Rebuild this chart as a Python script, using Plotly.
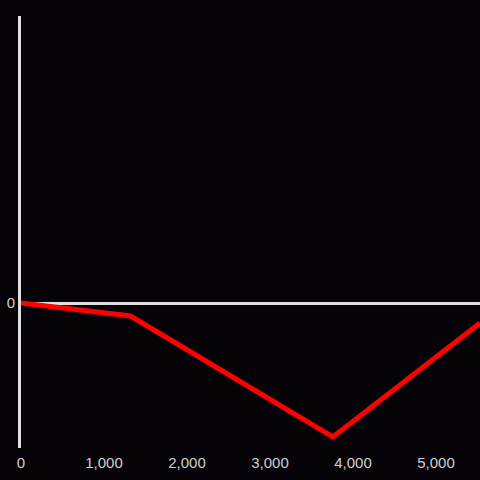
import plotly.graph_objects as go

x_vals = [0, 1320, 3757, 5530]
y_vals = [0, -13, -134, -20]
x_ticks = [0, 1000, 2000, 3000, 4000, 5000]
x_tick_labels = ["0", "1,000", "2,000", "3,000", "4,000", "5,000"]

fig = go.Figure()
fig.add_trace(go.Scatter(x=x_vals, y=y_vals, mode="lines",
                         line=dict(color="#ff0000", width=5), cliponaxis=False))

fig.update_layout(
    width=480, height=480,
    paper_bgcolor="#050307", plot_bgcolor="#050307",
    margin=dict(l=21, r=0, t=16, b=32),
    showlegend=False,
    font=dict(family="Liberation Sans, Arial, sans-serif", size=15, color="#d0d0d0"),
)
fig.update_xaxes(range=[0, 5530], tickvals=x_ticks, ticktext=x_tick_labels,
                 showgrid=False, zeroline=False, showline=False, ticks="",
                 ticklabelstandoff=4)
fig.update_yaxes(range=[-145, 287], tickvals=[0], ticktext=["0"],
                 showgrid=False, zeroline=True, zerolinecolor="#e0e0e0", zerolinewidth=3,
                 showline=True, linecolor="#e0e0e0", linewidth=3, ticks="")

fig.write_html("out.html", config={"displayModeBar": False},
               post_script="document.body.style.margin='0';document.body.style.background='#050307';")
